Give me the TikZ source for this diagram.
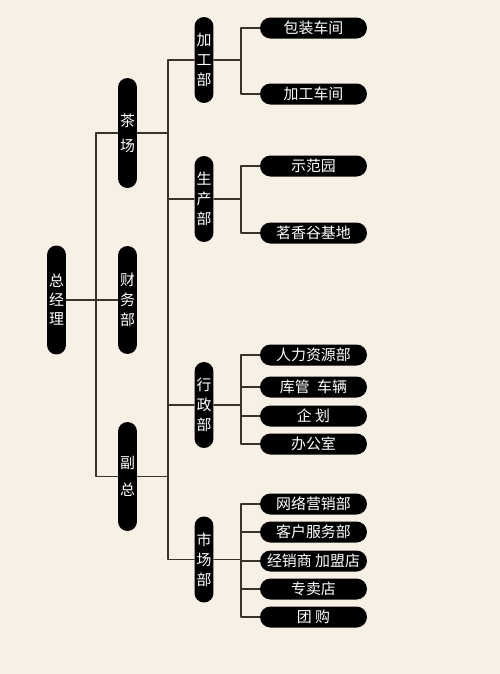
\documentclass[tikz,border=0pt]{standalone}
\usepackage{fontspec}
\newfontfamily\cjk{Noto Sans CJK SC}
\definecolor{paper}{HTML}{F7F0E5}
\definecolor{wire}{HTML}{3A332C}
\begin{document}
\begin{tikzpicture}[x=0.02cm,y=-0.02cm,line join=round,line cap=round,
	pill/.style={fill=black,text=white,rounded corners=0.19cm,inner sep=0pt,minimum width=0.38cm,align=center,font=\cjk\fontsize{8.5}{#1}\selectfont},
	pill/.default=11.4pt,
	leaf/.style={fill=black,text=white,rounded corners=0.21cm,inner sep=0pt,minimum width=2.14cm,minimum height=0.42cm,font=\cjk\fontsize{8.5}{10}\selectfont},
	wire/.style={draw=wire,line width=0.6pt}]
				\fill[paper] (0,0) rectangle (500,674);
				\path
				(96,300) coordinate (J)
				(168,300) coordinate (H)
				(241,300) coordinate (K)
				;
				% columns one and two
				\node[pill=10.8pt,minimum height=2.18cm] (GM) at (56.5,300) {总\\经\\理};
				\node[pill=14.2pt,minimum height=2.2cm] (TF) at (127.5,133) {茶\\场};
				\node[pill,minimum height=2.16cm] (CW) at (127.5,300) {财\\务\\部};
				\node[pill=15.4pt,minimum height=2.18cm] (FZ) at (127.5,476.5) {副\\总};
				% departments
				\foreach \n/\y/\t in {D1/60/加\\工\\部,D2/199/生\\产\\部,D3/405/行\\政\\部,D4/559.5/市\\场\\部}
				\node[pill,minimum height=1.72cm] (\n) at (204,\y) {\t};
				% units
				\foreach \n/\y/\t in {A1/28/包装车间,A2/94/加工车间,B1/166/示范园,B2/233/茗香谷基地,
					C1/355/人力资源部,C2/387/库管\enspace 车辆,C3/416/企 划,C4/444/办公室,
					E1/504/网络营销部,E2/532/客户服务部,E3/561/经销商 加盟店,E4/589/专卖店,E5/617/团 购}
				\node[leaf] (\n) at (313.5,\y) {\t};
				% connectors
				\draw[wire] (GM.east) -- (CW.west);
				\draw[wire] (TF.west) -| (J) |- (FZ.west);
				\draw[wire] (D1.west) -| (H) |- (D4.west);
				\foreach \a in {TF,FZ} \draw[wire] (\a.east) -- (\a.east -| H);
				\foreach \a in {D2,D3} \draw[wire] (\a.west) -- (\a.west -| H);
				\foreach \d/\f/\l in {D1/A1/A2,D2/B1/B2,D3/C1/C4,D4/E1/E5}{
					\draw[wire] (\d.east) -- (\d.east -| K);
					\draw[wire] (\f.west) -- (\f.west -| K) |- (\l.west);
				}
				\foreach \m in {C2,C3,E2,E3,E4} \draw[wire] (\m.west) -- (\m.west -| K);
			\end{tikzpicture}
\end{document}
